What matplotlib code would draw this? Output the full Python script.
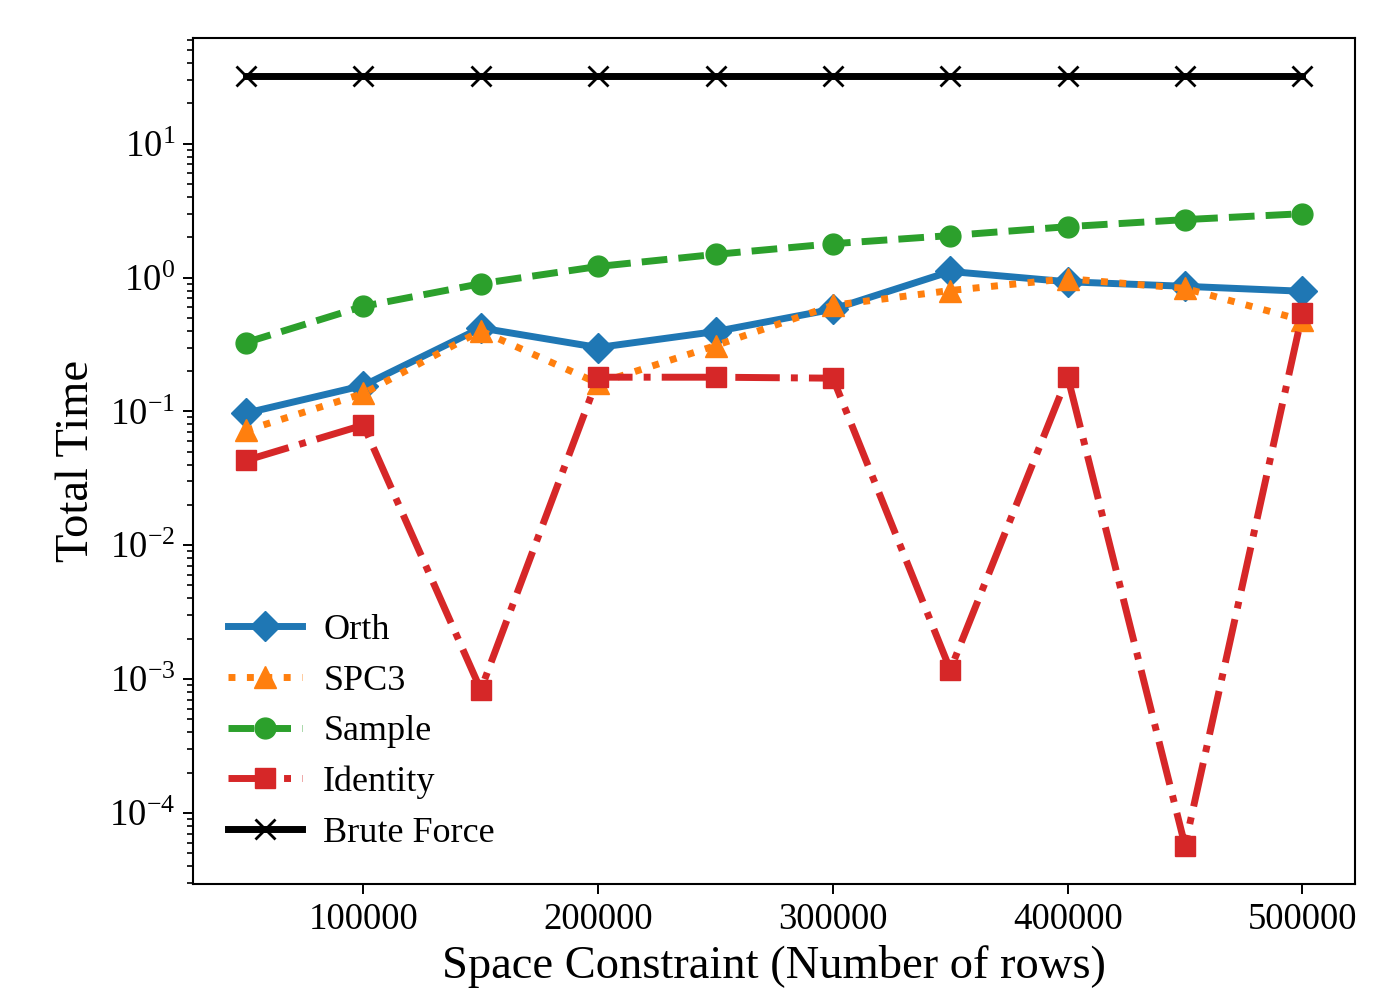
import matplotlib
matplotlib.use("Agg")
import matplotlib.pyplot as plt

plt.rcParams['font.family'] = ['Liberation Serif', 'DejaVu Serif']
plt.rcParams['mathtext.fontset'] = 'stix'

x = [50000, 100000, 150000, 200000, 250000, 300000, 350000, 400000, 450000, 500000]
orth = [0.097, 0.156, 0.42, 0.30, 0.395, 0.58, 1.11, 0.93, 0.86, 0.79]
spc3 = [0.072, 0.136, 0.40, 0.162, 0.31, 0.62, 0.80, 0.98, 0.83, 0.48]
sample = [0.327, 0.61, 0.90, 1.21, 1.49, 1.79, 2.06, 2.4, 2.71, 3.0]
identity = [0.043, 0.079, 0.00083, 0.18, 0.18, 0.177, 0.00117, 0.182, 5.7e-5, 0.54]
brute = [32, 32, 32, 32, 32, 32, 32, 32, 32, 32]
xticks = [100000, 200000, 300000, 400000, 500000]

fig = plt.figure(figsize=(14, 9.91), dpi=100)
ax = fig.add_axes([0.138, 0.108, 0.830, 0.854])

lw = 5
ax.plot(x, orth, '-', color='#1f77b4', marker='D', ms=15, lw=lw, label='Orth')
ax.plot(x, spc3, ':', color='#ff7f0e', marker='^', ms=16, lw=lw, label='SPC3')
ax.plot(x, sample, '--', color='#2ca02c', marker='o', ms=15, lw=lw, label='Sample')
ax.plot(x, identity, '-.', color='#d62728', marker='s', ms=15, lw=lw, label='Identity')
ax.plot(x, brute, '-', color='black', marker='x', ms=15, mew=2, lw=lw, label='Brute Force')

ax.set_yscale('log')
ax.set_xticks(xticks)
ax.set_xticklabels([str(v) for v in xticks])
ax.tick_params(axis='both', labelsize=26.5, width=1.4, length=7, pad=6)
ax.tick_params(axis='y', which='minor', width=1.2, length=4)
for s in ax.spines.values():
    s.set_linewidth(1.5)

ax.set_xlabel('Space Constraint (Number of rows)', fontsize=33.5, labelpad=6)
ax.set_ylabel('Total Time', fontsize=33.5, labelpad=8)

ax.legend(loc='lower left', frameon=False, fontsize=26, handlelength=2.05,
          handletextpad=0.6, labelspacing=0.48, borderaxespad=0.55)

fig.savefig('out.png', dpi=100)
